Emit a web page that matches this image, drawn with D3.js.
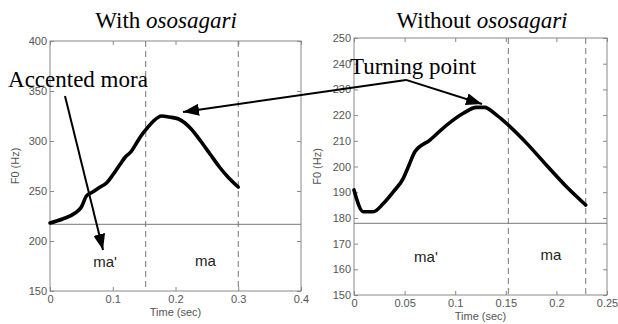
<!DOCTYPE html>
<html>
<head>
<meta charset="utf-8">
<script src="https://cdn.jsdelivr.net/npm/d3@7"></script>
<style>
  html, body { margin: 0; padding: 0; background: #fff; }
  svg { display: block; }
  .tick text { font-family: Arial, "Liberation Sans", sans-serif; font-size: 11px; fill: #555; }
  .tick line { stroke: #888; }
</style>
</head>
<body>
<div id="chart"></div>
<script>
// ---- data ----
// left panel: "With ososagari"
const withTime = [0, 0.02, 0.04, 0.05, 0.058, 0.068, 0.08, 0.09, 0.1, 0.112, 0.12, 0.13, 0.137, 0.145, 0.155, 0.165, 0.178, 0.19, 0.205, 0.215, 0.225, 0.24, 0.255, 0.27, 0.285, 0.3];
const withF0 = [218, 222, 228, 234, 245, 249, 254, 258, 266, 277, 284, 290, 297, 305, 313, 320, 325, 324, 322, 318, 312, 300, 287, 274, 263, 254];
const withXTicks = [0, 0.1, 0.2, 0.3, 0.4];
const withYTicks = [150, 200, 250, 300, 350, 400];
const withBounds = [0.1525, 0.3];
const withBaseF0 = 216.7;

// right panel: "Without ososagari"
const withoutTime = [0, 0.0092, 0.019, 0.029, 0.039, 0.0487, 0.0537, 0.0603, 0.075, 0.0916, 0.108, 0.121, 0.129, 0.141, 0.1525, 0.1707, 0.19, 0.21, 0.229];
const withoutF0 = [190.9, 182.4, 182.4, 185.6, 190.2, 195.4, 199.9, 205.8, 210.3, 216.1, 220.7, 223, 223, 220, 216.1, 209, 200.6, 192.1, 185];
const withoutXTicks = [0, 0.05, 0.1, 0.15, 0.2, 0.25];
const withoutYTicks = [150, 160, 170, 180, 190, 200, 210, 220, 230, 240, 250];
const withoutBounds = [0.1525, 0.229];
const withoutBaseF0 = 177.9;

const segmentLabels = ["ma'", "ma"];
const withSegPos = [[0.0877, 174], [0.2478, 175]];
const withoutSegPos = [[0.0711, 162.8], [0.1947, 163.6]];

// annotation anchors, in panel data coords (time, F0)
const accentedStart = [0.0239, 345];
const accentedTip = [0.0845, 191];
const accentedText = [-0.0669, 354];
const turnVertex = [0.0514, 233.7];   // right panel
const turnTipRight = [0.1265, 224.3]; // right panel
const turnTipLeft = [0.212, 329];     // left panel
const turnText = [-0.004, 236];       // right panel

const W = 618, H = 324;
const svg = d3.select('#chart').append('svg')
  .attr('width', W).attr('height', H);
svg.append('rect').attr('width', W).attr('height', H).attr('fill', '#fff');

svg.append('defs').append('marker')
  .attr('id', 'arrow')
  .attr('viewBox', '0 0 16 12')
  .attr('refX', 16).attr('refY', 6)
  .attr('markerWidth', 16).attr('markerHeight', 12)
  .attr('markerUnits', 'userSpaceOnUse')
  .attr('orient', 'auto')
  .append('path').attr('d', 'M0,0 L16,6 L0,12 Z').attr('fill', '#000');

function drawPanel(p) {
  const x = d3.scaleLinear().domain(p.xDomain).range([p.left, p.right]);
  const y = d3.scaleLinear().domain(p.yDomain).range([p.bottom, p.top]);
  const g = svg.append('g');

  // box
  g.append('rect')
    .attr('x', p.left).attr('y', p.top)
    .attr('width', p.right - p.left).attr('height', p.bottom - p.top)
    .attr('fill', 'none').attr('stroke', '#888');

  // axes, matlab style ticks pointing inward
  const fmt = d3.format('~g');
  g.append('g').attr('transform', `translate(0,${p.bottom})`)
    .call(d3.axisBottom(x).tickValues(p.xTicks).tickSize(-4).tickPadding(4).tickFormat(fmt))
    .call(a => a.select('.domain').remove());
  g.append('g').attr('transform', `translate(0,${p.top})`)
    .call(d3.axisTop(x).tickValues(p.xTicks).tickSize(-4).tickFormat(''))
    .call(a => a.select('.domain').remove());
  g.append('g').attr('transform', `translate(${p.left},0)`)
    .call(d3.axisLeft(y).tickValues(p.yTicks).tickSize(-4).tickPadding(3).tickFormat(fmt))
    .call(a => a.select('.domain').remove());
  g.append('g').attr('transform', `translate(${p.right},0)`)
    .call(d3.axisRight(y).tickValues(p.yTicks).tickSize(-4).tickFormat(''))
    .call(a => a.select('.domain').remove());

  // axis titles
  g.append('text')
    .attr('x', (p.left + p.right) / 2).attr('y', p.bottom + 25)
    .attr('text-anchor', 'middle')
    .attr('font-family', 'Arial, "Liberation Sans", sans-serif')
    .attr('font-size', 11).attr('fill', '#555')
    .text('Time (sec)');
  g.append('text')
    .attr('transform', `translate(${p.yLabelX},${(p.top + p.bottom) / 2}) rotate(-90)`)
    .attr('text-anchor', 'middle')
    .attr('font-family', 'Arial, "Liberation Sans", sans-serif')
    .attr('font-size', 11).attr('fill', '#555')
    .text('F0 (Hz)');

  // segment boundaries + baseline
  g.selectAll('.bound').data(p.bounds).enter().append('line')
    .attr('x1', d => x(d)).attr('x2', d => x(d))
    .attr('y1', p.top).attr('y2', p.bottom)
    .attr('stroke', '#777').attr('stroke-dasharray', '6,4');
  g.append('line')
    .attr('x1', p.left).attr('x2', p.right)
    .attr('y1', y(p.baseF0)).attr('y2', y(p.baseF0))
    .attr('stroke', '#777');

  // segment labels
  g.selectAll('.seg').data(segmentLabels).enter().append('text')
    .attr('x', (d, i) => x(p.segPos[i][0]))
    .attr('y', (d, i) => y(p.segPos[i][1]))
    .attr('text-anchor', 'middle')
    .attr('font-family', 'Arial, "Liberation Sans", sans-serif')
    .attr('font-size', 15).attr('fill', '#222')
    .text(d => d);

  // F0 contour
  const pts = p.time.map((t, i) => [t, p.f0[i]]);
  g.append('path')
    .datum(pts)
    .attr('fill', 'none').attr('stroke', '#000')
    .attr('stroke-width', 3.6).attr('stroke-linejoin', 'round').attr('stroke-linecap', 'round')
    .attr('d', d3.line().x(d => x(d[0])).y(d => y(d[1])).curve(d3.curveMonotoneX));

  // title
  const title = g.append('text')
    .attr('x', p.titleX).attr('y', 28)
    .attr('text-anchor', 'middle')
    .attr('font-family', '"Liberation Serif", "Times New Roman", serif')
    .attr('font-size', 23).attr('fill', '#000');
  title.append('tspan').text(p.title + ' ');
  title.append('tspan').attr('font-style', 'italic').text('ososagari');

  return { x, y };
}

const L = drawPanel({
  left: 50, right: 301, top: 41, bottom: 291, yLabelX: 19, titleX: 166,
  xDomain: [0, 0.4], yDomain: [150, 400],
  xTicks: withXTicks, yTicks: withYTicks,
  time: withTime, f0: withF0, bounds: withBounds, baseF0: withBaseF0,
  segPos: withSegPos, title: 'With'
});
const R = drawPanel({
  left: 354, right: 607, top: 38, bottom: 295, yLabelX: 321, titleX: 482,
  xDomain: [0, 0.25], yDomain: [150, 250],
  xTicks: withoutXTicks, yTicks: withoutYTicks,
  time: withoutTime, f0: withoutF0, bounds: withoutBounds, baseF0: withoutBaseF0,
  segPos: withoutSegPos, title: 'Without'
});

// annotations
const ann = svg.append('g');
const arrow = (a, b) => ann.append('line')
  .attr('x1', a[0]).attr('y1', a[1]).attr('x2', b[0]).attr('y2', b[1])
  .attr('stroke', '#000').attr('stroke-width', 2)
  .attr('marker-end', 'url(#arrow)');

const pL = d => [L.x(d[0]), L.y(d[1])];
const pR = d => [R.x(d[0]), R.y(d[1])];

arrow(pL(accentedStart), pL(accentedTip));
arrow(pR(turnVertex), pR(turnTipRight));
arrow(pR(turnVertex), pL(turnTipLeft));

ann.append('text')
  .attr('x', pL(accentedText)[0]).attr('y', pL(accentedText)[1])
  .attr('font-family', '"Liberation Serif", "Times New Roman", serif')
  .attr('font-size', 23).attr('fill', '#000')
  .text('Accented mora');
ann.append('text')
  .attr('x', pR(turnText)[0]).attr('y', pR(turnText)[1])
  .attr('font-family', '"Liberation Serif", "Times New Roman", serif')
  .attr('font-size', 23).attr('fill', '#000')
  .text('Turning point');
</script>
</body>
</html>
